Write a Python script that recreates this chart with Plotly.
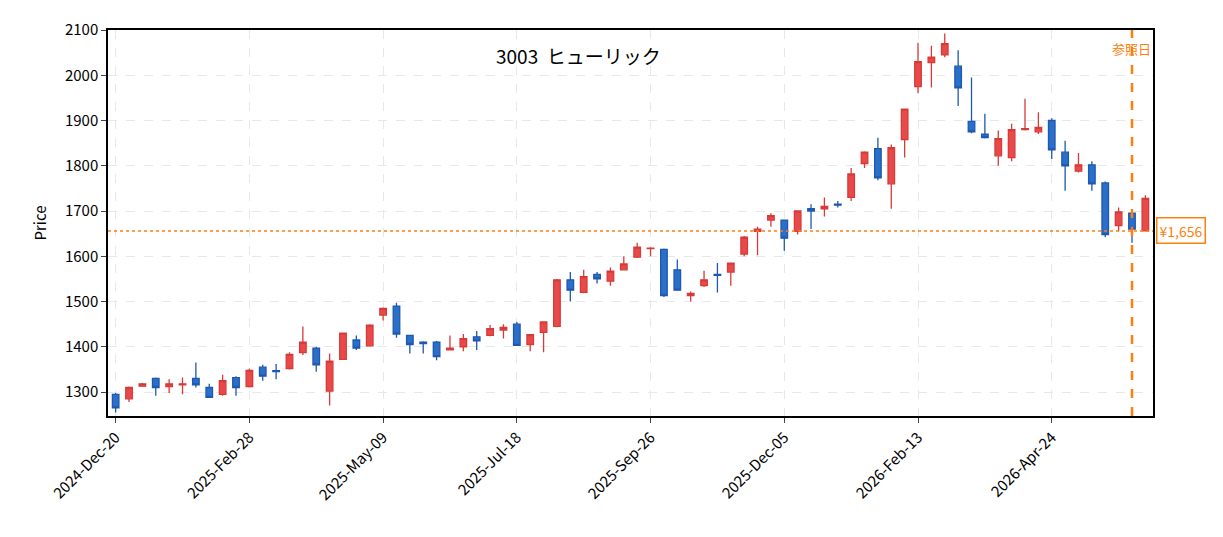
import plotly.graph_objects as go
import pandas as pd

start = pd.Timestamp("2024-12-20")
opens  = [1295,1285,1313,1330,1312,1316,1330,1310,1295,1332,1312,1355,1347,1352,1387,1397,1302,1372,1415,1402,
          1470,1490,1425,1410,1410,1393,1400,1422,1425,1437,1450,1405,1432,1445,1548,1520,1560,1545,1570,1598,
          1617,1615,1570,1513,1535,1560,1565,1605,1655,1680,1680,1655,1705,1705,1715,1730,1805,1838,1760,1858,
          1975,2028,2045,2020,1898,1870,1822,1818,1880,1875,1900,1830,1788,1802,1762,1668,1695,1656]
highs  = [1298,1312,1320,1332,1328,1332,1365,1318,1338,1335,1352,1360,1362,1388,1445,1400,1385,1430,1425,1450,
          1487,1497,1426,1412,1413,1425,1428,1435,1448,1450,1455,1427,1455,1550,1565,1570,1565,1575,1600,1630,
          1620,1617,1593,1522,1568,1585,1585,1645,1665,1695,1680,1700,1715,1730,1722,1795,1832,1862,1847,1925,
          2072,2065,2092,2055,1995,1915,1878,1893,1948,1918,1905,1855,1828,1810,1765,1708,1695,1735]
lows   = [1255,1278,1312,1292,1298,1295,1310,1287,1292,1292,1310,1325,1328,1350,1382,1345,1270,1372,1393,1400,
          1458,1420,1385,1385,1370,1392,1390,1393,1423,1418,1403,1390,1388,1443,1500,1518,1540,1535,1570,1596,
          1600,1510,1525,1500,1532,1520,1535,1600,1602,1665,1612,1648,1660,1688,1708,1722,1795,1768,1705,1818,
          1960,1973,2040,1932,1872,1860,1800,1810,1878,1870,1815,1745,1785,1745,1642,1655,1630,1656]
closes = [1265,1310,1318,1310,1318,1318,1316,1288,1325,1310,1348,1335,1345,1383,1410,1360,1368,1430,1397,1448,
          1485,1428,1405,1407,1378,1397,1418,1413,1440,1443,1403,1427,1455,1548,1525,1555,1550,1567,1583,1620,
          1618,1513,1525,1518,1548,1558,1585,1642,1660,1690,1640,1700,1700,1710,1713,1782,1830,1773,1840,1925,
          2030,2040,2070,1972,1875,1862,1860,1880,1882,1885,1835,1800,1802,1760,1648,1698,1660,1728]
dates = [start + pd.Timedelta(weeks=i) for i in range(len(opens))]
ref_price = 1656
ref_date = dates[76]
tick_vals = [dates[i] for i in range(0, 78, 10)]
tick_text = [d.strftime("%Y-%b-%d") for d in tick_vals]

fig = go.Figure(go.Candlestick(
    x=dates, open=opens, high=highs, low=lows, close=closes,
    increasing=dict(line=dict(color="#d83a3a", width=1.3), fillcolor="#e84a4a"),
    decreasing=dict(line=dict(color="#1f58b0", width=1.3), fillcolor="#2a6fc9"),
    whiskerwidth=0, showlegend=False))

fig.add_hline(y=ref_price, line=dict(color="#ff7f0e", width=1.5, dash="dot"))
fig.add_vline(x=ref_date, line=dict(color="#ff7f0e", width=2.5, dash="dash"))
fig.add_annotation(x=ref_date, y=2060, text="参照日", showarrow=False,
                   font=dict(color="#ff7f0e", size=13), xanchor="center")
fig.add_annotation(xref="paper", x=1.003, y=ref_price, text="¥1,656", showarrow=False,
                   xanchor="left", font=dict(color="#ff7f0e", size=14),
                   bordercolor="#ff7f0e", borderwidth=1.5, borderpad=2, bgcolor="white")
fig.add_annotation(xref="paper", yref="paper", x=0.45, y=0.975, text="3003  ヒューリック",
                   showarrow=False, font=dict(size=19, color="black"), yanchor="top")

grid = dict(showgrid=True, gridcolor="#e8e8e8", griddash="dash", gridwidth=1)
fig.update_layout(
    width=1223, height=537, margin=dict(l=100, r=78, t=22, b=129, autoexpand=False),
    plot_bgcolor="white", paper_bgcolor="white",
    font=dict(family="Noto Sans CJK JP", size=15, color="black"),
    xaxis=dict(rangeslider=dict(visible=False), tickvals=tick_vals, ticktext=tick_text,
               tickangle=-45, range=[start - pd.Timedelta(days=4), dates[-1] + pd.Timedelta(days=4)],
               showline=True, linecolor="black", linewidth=1.5, mirror=True,
               ticks="outside", ticklen=5, **grid),
    yaxis=dict(title=dict(text="Price", font=dict(size=15)), range=[1247, 2100], dtick=100,
               showline=True, linecolor="black", linewidth=1.5, mirror=True,
               ticks="outside", ticklen=5, **grid),
)
fig.write_html("out.html")
